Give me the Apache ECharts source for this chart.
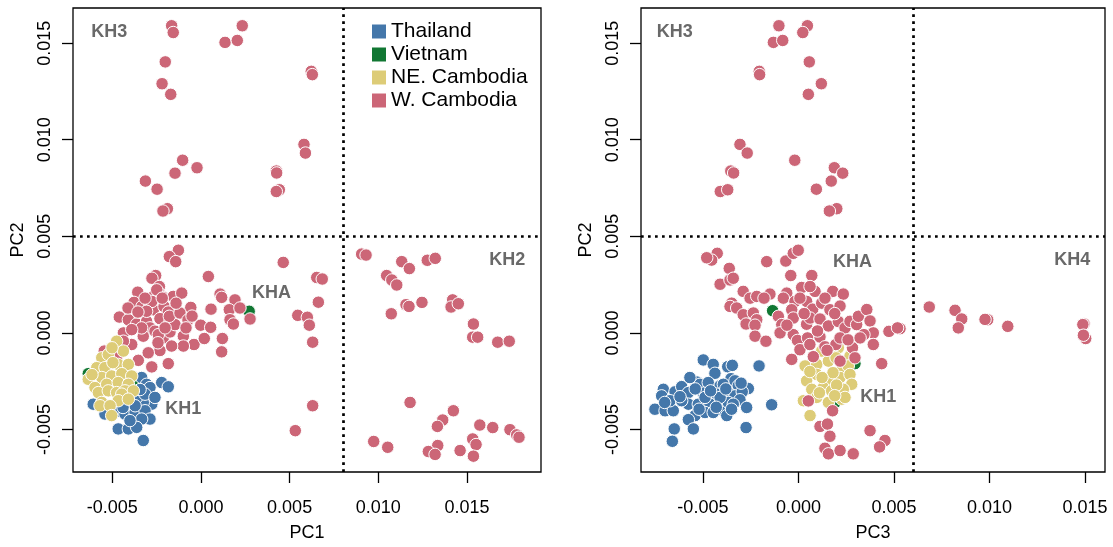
<!DOCTYPE html>
<html><head><meta charset="utf-8">
<script src="https://cdn.jsdelivr.net/npm/echarts@6/dist/echarts.min.js"></script>
<style>html,body{margin:0;padding:0;background:#fff}#c{width:1113px;height:547px}</style>
</head><body><div id="c"></div><script>
// ---------- tick labels / ranges ----------
const pcTicks = [-0.005, 0, 0.005, 0.010, 0.015];
const pc1Range = [-0.00721, 0.01917];
const pc2Range = [-0.00720, 0.01682];
const pc3Range = [-0.00824, 0.01605];
const pc1Cut = 0.008, pc2Cut = 0.005, pc3Cut = 0.006;
const groups = ['Thailand', 'Vietnam', 'NE. Cambodia', 'W. Cambodia'];

// ---------- left panel: [PC1, PC2] ----------
const thailandPC12 = [[-0.00221,-0.00257],[-0.00184,-0.00279],[-0.00334,-0.00231],[-0.00306,-0.00266],[-0.00287,-0.00283],[-0.00277,-0.00369],[-0.00325,-0.00360],[-0.00362,-0.00334],[-0.00315,-0.00317],[-0.00607,-0.00369],[-0.00541,-0.00420],[-0.00484,-0.00412],[-0.00428,-0.00420],[-0.00371,-0.00412],[-0.00315,-0.00403],[-0.00287,-0.00446],[-0.00334,-0.00446],[-0.00466,-0.00497],[-0.00409,-0.00497],[-0.00362,-0.00489],[-0.00325,-0.00557],[-0.00400,-0.00454],[-0.00371,-0.00377],[-0.00343,-0.00293],[-0.00259,-0.00334],[-0.00439,-0.00386]];
const vietnamPC12 = [[-0.00635,-0.00211],[0.00272,0.00112],[-0.00362,-0.00266]];
const neCambodiaPC12 = [[-0.00475,-0.00043],[-0.00559,-0.00129],[-0.00522,-0.00112],[-0.00437,-0.00094],[-0.00587,-0.00180],[-0.00541,-0.00180],[-0.00466,-0.00163],[-0.00409,-0.00163],[-0.00635,-0.00240],[-0.00559,-0.00231],[-0.00503,-0.00223],[-0.00446,-0.00211],[-0.00390,-0.00223],[-0.00597,-0.00283],[-0.00531,-0.00266],[-0.00466,-0.00257],[-0.00409,-0.00266],[-0.00578,-0.00309],[-0.00522,-0.00300],[-0.00475,-0.00309],[-0.00428,-0.00300],[-0.00381,-0.00300],[-0.00446,-0.00317],[-0.00559,-0.00360],[-0.00466,-0.00351],[-0.00409,-0.00343],[-0.00569,-0.00377],[-0.00512,-0.00377],[-0.00503,-0.00428],[-0.00501,-0.00077],[-0.00496,-0.00154],[-0.00614,-0.00216]];
const wCambodiaPC12 = [
[-0.00165,0.01590],[-0.00156,0.01555],[0.00136,0.01504],[0.00205,0.01514],[0.00233,0.01590],[-0.00201,0.01403],[-0.00219,0.01290],[-0.00170,0.01235],[0.00622,0.01354],[0.00628,0.01337],[-0.00103,0.00894],[-0.00022,0.00855],[-0.00146,0.00827],[-0.00313,0.00786],[-0.00247,0.00744],[-0.00189,0.00643],[-0.00214,0.00631],[0.00581,0.00976],[0.00589,0.00931],[0.00425,0.00838],[0.00427,0.00828],[0.00442,0.00741],[0.00425,0.00732],
[0.00906,0.00408],[0.00931,0.00403],[0.01132,0.00369],[0.01175,0.00333],[0.01276,0.00376],[0.01321,0.00386],[0.01047,0.00297],[0.01076,0.00274],[0.01104,0.00248],[0.01156,0.00146],[0.01173,0.00137],[0.01246,0.00158],[0.01073,0.00099],[0.01419,0.00171],[0.01410,0.00134],[0.01451,0.00151],[0.01536,0.00046],[0.01532,-0.00022],[0.01560,-0.00022],[0.01673,-0.00048],[0.01738,-0.00043],[0.01179,-0.00360],[0.01423,-0.00403],[0.01363,-0.00451],[0.01333,-0.00484],[0.01572,-0.00477],[0.01645,-0.00490],[0.01742,-0.00501],[0.01780,-0.00528],[0.01793,-0.00540],[0.00974,-0.00562],[0.01053,-0.00592],[0.01532,-0.00549],[0.01551,-0.00578],[0.01335,-0.00583],[0.01282,-0.00614],[0.01320,-0.00629],[0.01461,-0.00609],[0.01536,-0.00638],
[-0.00127,0.00428],[-0.00178,0.00395],[-0.00142,0.00369],[0.00464,0.00365],[-0.00255,0.00297],[-0.00276,0.00283],[0.00042,0.00292],[0.00653,0.00287],[0.00684,0.00279],[-0.00234,0.00240],[-0.00356,0.00211],[-0.00263,0.00194],[-0.00236,0.00206],[-0.00212,0.00184],[-0.00156,0.00189],[-0.00108,0.00206],[0.00108,0.00201],[0.00117,0.00184],[0.00192,0.00171],[0.00662,0.00159],[-0.00377,0.00158],[-0.00332,0.00137],[-0.00287,0.00146],[-0.00268,0.00120],[-0.00208,0.00137],[-0.00184,0.00108],[-0.00057,0.00132],[0.00057,0.00123],[0.00160,0.00120],[0.00220,0.00129],[0.00164,0.00068],[0.00183,0.00046],[0.00277,0.00072],[0.00546,0.00091],[0.00600,0.00081],[0.00611,0.00040],[0.00630,-0.00048],[-0.00460,0.00082],[-0.00409,0.00068],[-0.00362,0.00046],[-0.00306,0.00060],[-0.00231,0.00074],[-0.00287,0.00026],[-0.00259,0.00009],[-0.00325,-0.00017],[-0.00390,-0.00060],[-0.00212,-0.00026],[-0.00174,0.00005],[-0.00099,-0.00017],[-0.00039,-0.00060],[0.00019,-0.00029],[-0.00001,0.00040],[0.00055,0.00029],[0.00121,-0.00029],[0.00117,-0.00098],[-0.00099,-0.00068],[-0.00231,-0.00091],[-0.00297,-0.00103],[-0.00353,-0.00142],[-0.00277,-0.00176],[-0.00184,-0.00159],[-0.00545,-0.00094],[0.00630,-0.00377],[0.00532,-0.00506],[-0.00249,0.00223],[-0.00277,0.00163],[-0.00218,0.00180],[-0.00306,0.00112],[-0.00174,0.00060],[-0.00146,0.00043],[-0.00437,0.00000],[-0.00334,0.00026],[-0.00240,-0.00009],[-0.00165,-0.00068],[-0.00437,-0.00043],[-0.00475,-0.00129],[-0.00178,0.00086],[-0.00390,0.00017],[-0.00118,0.00103],[-0.00073,0.00067],[-0.00202,0.00026],
[-0.00411,0.00129],[-0.00315,0.00180],[-0.00140,0.00154],[-0.00084,0.00026],[-0.00355,0.00108],[-0.00050,0.00087],[-0.00242,-0.00051]
];

// ---------- right panel: [PC3, PC2] ----------
const thailandPC32 = [[-0.00498,-0.00140],[-0.00446,-0.00163],[-0.00370,-0.00175],[-0.00346,-0.00168],[-0.00437,-0.00209],[-0.00353,-0.00237],[-0.00206,-0.00171],[-0.00532,-0.00254],[-0.00515,-0.00266],[-0.00472,-0.00257],[-0.00410,-0.00274],[-0.00393,-0.00266],[-0.00332,-0.00248],[-0.00315,-0.00274],[-0.00262,-0.00288],[-0.00707,-0.00292],[-0.00716,-0.00326],[-0.00646,-0.00305],[-0.00611,-0.00278],[-0.00576,-0.00309],[-0.00498,-0.00312],[-0.00428,-0.00317],[-0.00358,-0.00317],[-0.00332,-0.00326],[-0.00294,-0.00305],[-0.00306,-0.00346],[-0.00751,-0.00395],[-0.00698,-0.00403],[-0.00655,-0.00403],[-0.00576,-0.00369],[-0.00524,-0.00369],[-0.00463,-0.00369],[-0.00393,-0.00403],[-0.00367,-0.00360],[-0.00341,-0.00369],[-0.00271,-0.00386],[-0.00672,-0.00351],[-0.00611,-0.00351],[-0.00541,-0.00428],[-0.00576,-0.00449],[-0.00489,-0.00412],[-0.00446,-0.00412],[-0.00375,-0.00428],[-0.00140,-0.00372],[-0.00650,-0.00497],[-0.00550,-0.00497],[-0.00274,-0.00490],[-0.00660,-0.00561],[-0.00568,-0.00231],[-0.00410,-0.00334],[-0.00489,-0.00334],
[-0.00620,-0.00330],[-0.00540,-0.00290],[-0.00460,-0.00300],[-0.00380,-0.00290],[-0.00300,-0.00260],[-0.00700,-0.00360],[-0.00520,-0.00395],[-0.00430,-0.00385],[-0.00350,-0.00395]];
const vietnamPC32 = [[-0.00135,0.00115],[0.00192,-0.00360],[0.00296,-0.00159]];
const neCambodiaPC32 = [[0.00122,-0.00094],[0.00209,-0.00077],[0.00270,-0.00120],[0.00035,-0.00171],[0.00096,-0.00163],[0.00157,-0.00146],[0.00227,-0.00189],[0.00261,-0.00171],[0.00043,-0.00248],[0.00096,-0.00215],[0.00157,-0.00248],[0.00218,-0.00231],[0.00270,-0.00215],[0.00279,-0.00266],[0.00070,-0.00292],[0.00130,-0.00283],[0.00174,-0.00300],[0.00235,-0.00292],[0.00026,-0.00351],[0.00096,-0.00334],[0.00157,-0.00360],[0.00227,-0.00343],[0.00061,-0.00428],[0.00244,-0.00334],[0.00181,-0.00206],[0.00124,-0.00231],[0.00197,-0.00129],
[0.00060,-0.00200],[0.00200,-0.00270],[0.00110,-0.00310],[0.00190,-0.00325]];
const wCambodiaPC32 = [
[-0.00102,0.01590],[-0.00131,0.01504],[-0.00082,0.01514],[0.00047,0.01590],[0.00023,0.01555],[0.00057,0.01403],[0.00120,0.01290],[0.00052,0.01235],[-0.00205,0.01354],[-0.00203,0.01337],[-0.00306,0.00976],[-0.00268,0.00931],[-0.00019,0.00894],[0.00188,0.00855],[0.00232,0.00827],[-0.00354,0.00838],[-0.00339,0.00828],[0.00172,0.00786],[0.00094,0.00744],[-0.00409,0.00732],[-0.00370,0.00741],[0.00201,0.00643],[0.00162,0.00631],
[0.00532,0.00022],[0.00685,0.00134],[0.00820,0.00117],[0.00855,0.00072],[0.00837,0.00026],[0.00991,0.00068],[0.00977,0.00070],[0.01096,0.00034],[0.01495,0.00046],[0.01489,0.00043],[0.01504,-0.00029],[0.01492,-0.00012],
[-0.00425,0.00412],[-0.00454,0.00377],[-0.00480,0.00389],[-0.00362,0.00334],[-0.00410,0.00252],[-0.00358,0.00274],[-0.00341,0.00283],[-0.00289,0.00215],[-0.00253,0.00180],[-0.00218,0.00189],[-0.00349,0.00154],[-0.00358,0.00137],[-0.00323,0.00129],[-0.00289,0.00094],[-0.00236,0.00103],[-0.00218,0.00068],[-0.00274,0.00046],[-0.00227,0.00040],[-0.00227,-0.00017],[-0.00170,-0.00043],[-0.00166,0.00369],[-0.00066,0.00372],[-0.00027,0.00412],[-0.00001,0.00428],[-0.00040,0.00297],[0.00070,0.00297],[0.00017,0.00235],[0.00087,0.00215],[0.00061,0.00240],[0.00180,0.00215],[0.00235,0.00201],[-0.00061,0.00206],[-0.00079,0.00180],[-0.00018,0.00163],[0.00043,0.00163],[0.00075,0.00123],[0.00122,0.00154],[0.00165,0.00120],[0.00218,0.00139],[-0.00105,0.00086],[-0.00087,0.00043],[-0.00035,0.00120],[-0.00027,0.00077],[0.00043,0.00045],[0.00061,0.00077],[0.00113,0.00072],[0.00157,0.00036],[0.00209,0.00059],[0.00244,0.00026],[0.00270,0.00060],[0.00305,0.00043],[0.00314,0.00086],[0.00358,0.00121],[0.00375,0.00062],[0.00392,0.00000],[0.00343,-0.00009],[0.00392,-0.00060],[0.00474,0.00008],[0.00519,0.00026],[0.00436,-0.00159],[-0.00027,-0.00009],[-0.00005,-0.00039],[0.00048,-0.00026],[0.00113,-0.00021],[0.00139,-0.00072],[0.00196,-0.00060],[0.00218,-0.00026],[0.00078,-0.00123],[-0.00035,-0.00137],[0.00218,-0.00146],[0.00283,-0.00077],[0.00296,-0.00129],[0.00052,-0.00352],[0.00179,-0.00403],[0.00113,-0.00484],[0.00152,-0.00472],[0.00165,-0.00535],[0.00139,-0.00597],[0.00157,-0.00626],[0.00218,-0.00609],[0.00287,-0.00626],[0.00375,-0.00506],[0.00453,-0.00557],[0.00425,-0.00590],
[0.00008,0.00180],[0.00139,0.00180],[-0.00149,0.00201],[-0.00096,0.00000],[0.00260,-0.00036],[0.00008,-0.00087],[0.00323,-0.00026],[-0.00180,0.00180],
[0.00030,0.00100],[0.00100,0.00010],[0.00190,0.00100],[-0.00060,0.00040],[0.00150,-0.00090],[0.00060,-0.00060]
];

// ---------- cluster annotations [panel, text, x, y] in data units ----------
const clusterLabels = [
  [0, 'KH3', -0.00517, 0.01560], [0, 'KHA', 0.00398, 0.00206], [0, 'KH1', -0.00100, -0.00396], [0, 'KH2', 0.01727, 0.00375],
  [1, 'KH3', -0.00647, 0.01560], [1, 'KHA', 0.00283, 0.00366], [1, 'KH1', 0.00418, -0.00334], [1, 'KH4', 0.01433, 0.00375]
];

const FONT = '"Liberation Sans", Arial, Helvetica, sans-serif';
const colorOf = {'Thailand':'#4477AA','Vietnam':'#117733','NE. Cambodia':'#DDCC77','W. Cambodia':'#CC6677'};

const chart = echarts.init(document.getElementById('c'), null, {renderer:'canvas'});
const fmt = v => v.toFixed(3);

function xAxisOf(i, name, range){
  return {gridIndex:i, type:'value', min:range[0], max:range[1], name:name, nameLocation:'middle', nameGap:52,
    nameTextStyle:{fontSize:18, color:'#000', fontFamily:FONT},
    axisLine:{show:false, onZero:false},
    axisTick:{show:true, inside:false, length:11, customValues:pcTicks, lineStyle:{color:'#000', width:1.3}},
    axisLabel:{customValues:pcTicks, formatter:fmt, margin:27, fontSize:18, color:'#000', fontFamily:FONT},
    splitLine:{show:false}};
}
function yAxisOf(i){
  return {gridIndex:i, type:'value', min:pc2Range[0], max:pc2Range[1], name:'PC2', nameLocation:'middle', nameGap:46,
    nameTextStyle:{fontSize:18, color:'#000', fontFamily:FONT},
    axisLine:{show:false, onZero:false},
    axisTick:{show:true, inside:false, length:11, customValues:pcTicks, lineStyle:{color:'#000', width:1.3}},
    axisLabel:{customValues:pcTicks, formatter:fmt, rotate:90, margin:19, fontSize:18, color:'#000', fontFamily:FONT},
    splitLine:{show:false}};
}
function pts(i, name, data, z){
  return {type:'scatter', name:name, xAxisIndex:i, yAxisIndex:i, data:data, symbol:'circle', symbolSize:12.5, z:z,
    itemStyle:{color:colorOf[name], borderColor:'#fff', borderWidth:1, opacity:1}, emphasis:{disabled:true}};
}
const dotStyle = {color:'#000', type:[2.7,4.3], width:2.7, cap:'butt'};
function cuts(i, xCut){
  return {type:'scatter', xAxisIndex:i, yAxisIndex:i, data:[], silent:true, z:1,
    markLine:{silent:true, precision:6, symbol:['none','none'], label:{show:false}, lineStyle:dotStyle, animation:false,
      emphasis:{disabled:true}, data:[{xAxis:xCut},{yAxis:pc2Cut}]}};
}
function labelSeries(i){
  return {type:'scatter', xAxisIndex:i, yAxisIndex:i, symbolSize:0, silent:true, z:10,
    data:clusterLabels.filter(d=>d[0]===i).map(d=>({value:[d[2],d[3]], name:d[1]})),
    label:{show:true, position:'inside', formatter:p=>p.name, fontSize:18, fontWeight:'bold', color:'#444444', fontFamily:FONT}};
}

chart.setOption({
  animation:false,
  backgroundColor:'#fff',
  grid:[
    {left:73, top:8, width:468, height:467, show:true, borderColor:'#000', borderWidth:1.3, backgroundColor:'transparent'},
    {left:641, top:8, width:464, height:467, show:true, borderColor:'#000', borderWidth:1.3, backgroundColor:'transparent'}
  ],
  xAxis:[xAxisOf(0,'PC1',pc1Range), xAxisOf(1,'PC3',pc3Range)],
  yAxis:[yAxisOf(0), yAxisOf(1)],
  legend:{data:groups, orient:'vertical', left:372, top:21, padding:0, itemWidth:14, itemHeight:14, itemGap:2, icon:'rect',
    textStyle:{fontSize:21, color:'#000', fontFamily:FONT}, itemStyle:{borderWidth:0}, selectedMode:false},
  series:[
    cuts(0, pc1Cut), cuts(1, pc3Cut),
    pts(0,'Vietnam',vietnamPC12,2), pts(0,'W. Cambodia',wCambodiaPC12,3), pts(0,'Thailand',thailandPC12,4), pts(0,'NE. Cambodia',neCambodiaPC12,5),
    pts(1,'Vietnam',vietnamPC32,2), pts(1,'Thailand',thailandPC32,3), pts(1,'NE. Cambodia',neCambodiaPC32,4), pts(1,'W. Cambodia',wCambodiaPC32,5),
    labelSeries(0), labelSeries(1)
  ]
});
</script></body></html>
